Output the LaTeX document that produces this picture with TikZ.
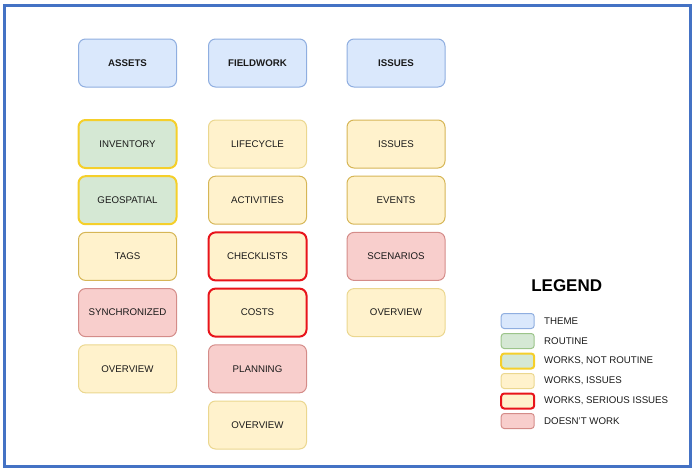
\documentclass[tikz,border=0pt]{standalone}
\usepackage{fontspec}
\setmainfont{Liberation Sans}
\definecolor{themeF}{HTML}{DAE8FC}\definecolor{themeD}{HTML}{8FAEE0}
\definecolor{routF}{HTML}{D5E8D4}\definecolor{routD}{HTML}{9CC48A}
\definecolor{yelF}{HTML}{FFF2CC}\definecolor{yelD}{HTML}{D6B656}\definecolor{yelL}{HTML}{EBD78F}
\definecolor{redF}{HTML}{F8CECC}\definecolor{redD}{HTML}{D48C89}
\definecolor{gold}{HTML}{F5CF2A}\definecolor{alarm}{HTML}{E8141B}
\definecolor{frame}{HTML}{4472C4}\definecolor{ink}{HTML}{1A1A1A}
\tikzset{
  box/.style={draw, rounded corners=7pt, minimum width=98pt, minimum height=48pt,
    inner sep=0pt, line width=1pt, text=ink, font=\fontsize{9.7}{11}\selectfont},
  theme/.style={box, fill=themeF, draw=themeD, font=\bfseries\fontsize{9.7}{11}\selectfont},
  routine/.style={fill=routF, draw=routD},
  notroutine/.style={fill=routF, draw=gold, line width=2pt},
  issuesdark/.style={fill=yelF, draw=yelD},
  issueslight/.style={fill=yelF, draw=yelL},
  serious/.style={fill=yelF, draw=alarm, line width=2pt},
  broken/.style={fill=redF, draw=redD},
  swatch/.style={draw, rounded corners=3pt, minimum width=33pt, minimum height=15pt, inner sep=0pt, line width=1pt},
  legtext/.style={anchor=west, inner sep=0pt, text=ink, font=\fontsize{9.7}{11}\selectfont}
}
\begin{document}
\begin{tikzpicture}[x=1pt,y=-1pt]
\useasboundingbox (0,0) rectangle (700,471);
\draw[frame, line width=2.5pt] (4.5,5.5) rectangle (690.7,466.7);
% themes
\node[theme] (assets) at (127.5,63) {ASSETS};
\node[theme] (fieldwork) at (257.5,63) {FIELDWORK};
\node[theme] (issuestheme) at (396,63) {ISSUES};
% assets column
\node[box, notroutine] (inventory) at (127.5,144) {INVENTORY};
\node[box, notroutine] (geospatial) at (127.5,200.2) {GEOSPATIAL};
\node[box, issuesdark] (tags) at (127.5,256.4) {TAGS};
\node[box, broken] (synchronized) at (127.5,312.6) {SYNCHRONIZED};
\node[box, issueslight] (overviewA) at (127.5,368.8) {OVERVIEW};
% fieldwork column
\node[box, issueslight] (lifecycle) at (257.5,144) {LIFECYCLE};
\node[box, issuesdark] (activities) at (257.5,200.2) {ACTIVITIES};
\node[box, serious] (checklists) at (257.5,256.4) {CHECKLISTS};
\node[box, serious] (costs) at (257.5,312.6) {COSTS};
\node[box, broken] (planning) at (257.5,368.8) {PLANNING};
\node[box, issueslight] (overviewF) at (257.5,425) {OVERVIEW};
% issues column
\node[box, issuesdark] (issues) at (396,144) {ISSUES};
\node[box, issuesdark] (events) at (396,200.2) {EVENTS};
\node[box, broken] (scenarios) at (396,256.4) {SCENARIOS};
\node[box, issueslight] (overviewI) at (396,312.6) {OVERVIEW};
% legend
\node[font=\bfseries\fontsize{17}{20}\selectfont, text=black, inner sep=0pt] (legend) at (566.7,285.5) {LEGEND};
\node[swatch, fill=themeF, draw=themeD] (sw1) at (517.7,321) {};
\node[swatch, fill=routF, draw=routD] (sw2) at (517.7,341) {};
\node[swatch, fill=routF, draw=gold, line width=2pt] (sw3) at (517.7,361) {};
\node[swatch, fill=yelF, draw=yelL] (sw4) at (517.7,381) {};
\node[swatch, fill=yelF, draw=alarm, line width=2pt] (sw5) at (517.7,401) {};
\node[swatch, fill=redF, draw=redD] (sw6) at (517.7,421) {};
\node[legtext] (lt1) at (544,321) {THEME};
\node[legtext] (lt2) at (544,341) {ROUTINE};
\node[legtext] (lt3) at (544,361) {WORKS, NOT ROUTINE};
\node[legtext] (lt4) at (544,381) {WORKS, ISSUES};
\node[legtext] (lt5) at (544,401) {WORKS, SERIOUS ISSUES};
\node[legtext] (lt6) at (544,421) {DOESN'T WORK};
\end{tikzpicture}
\end{document}
